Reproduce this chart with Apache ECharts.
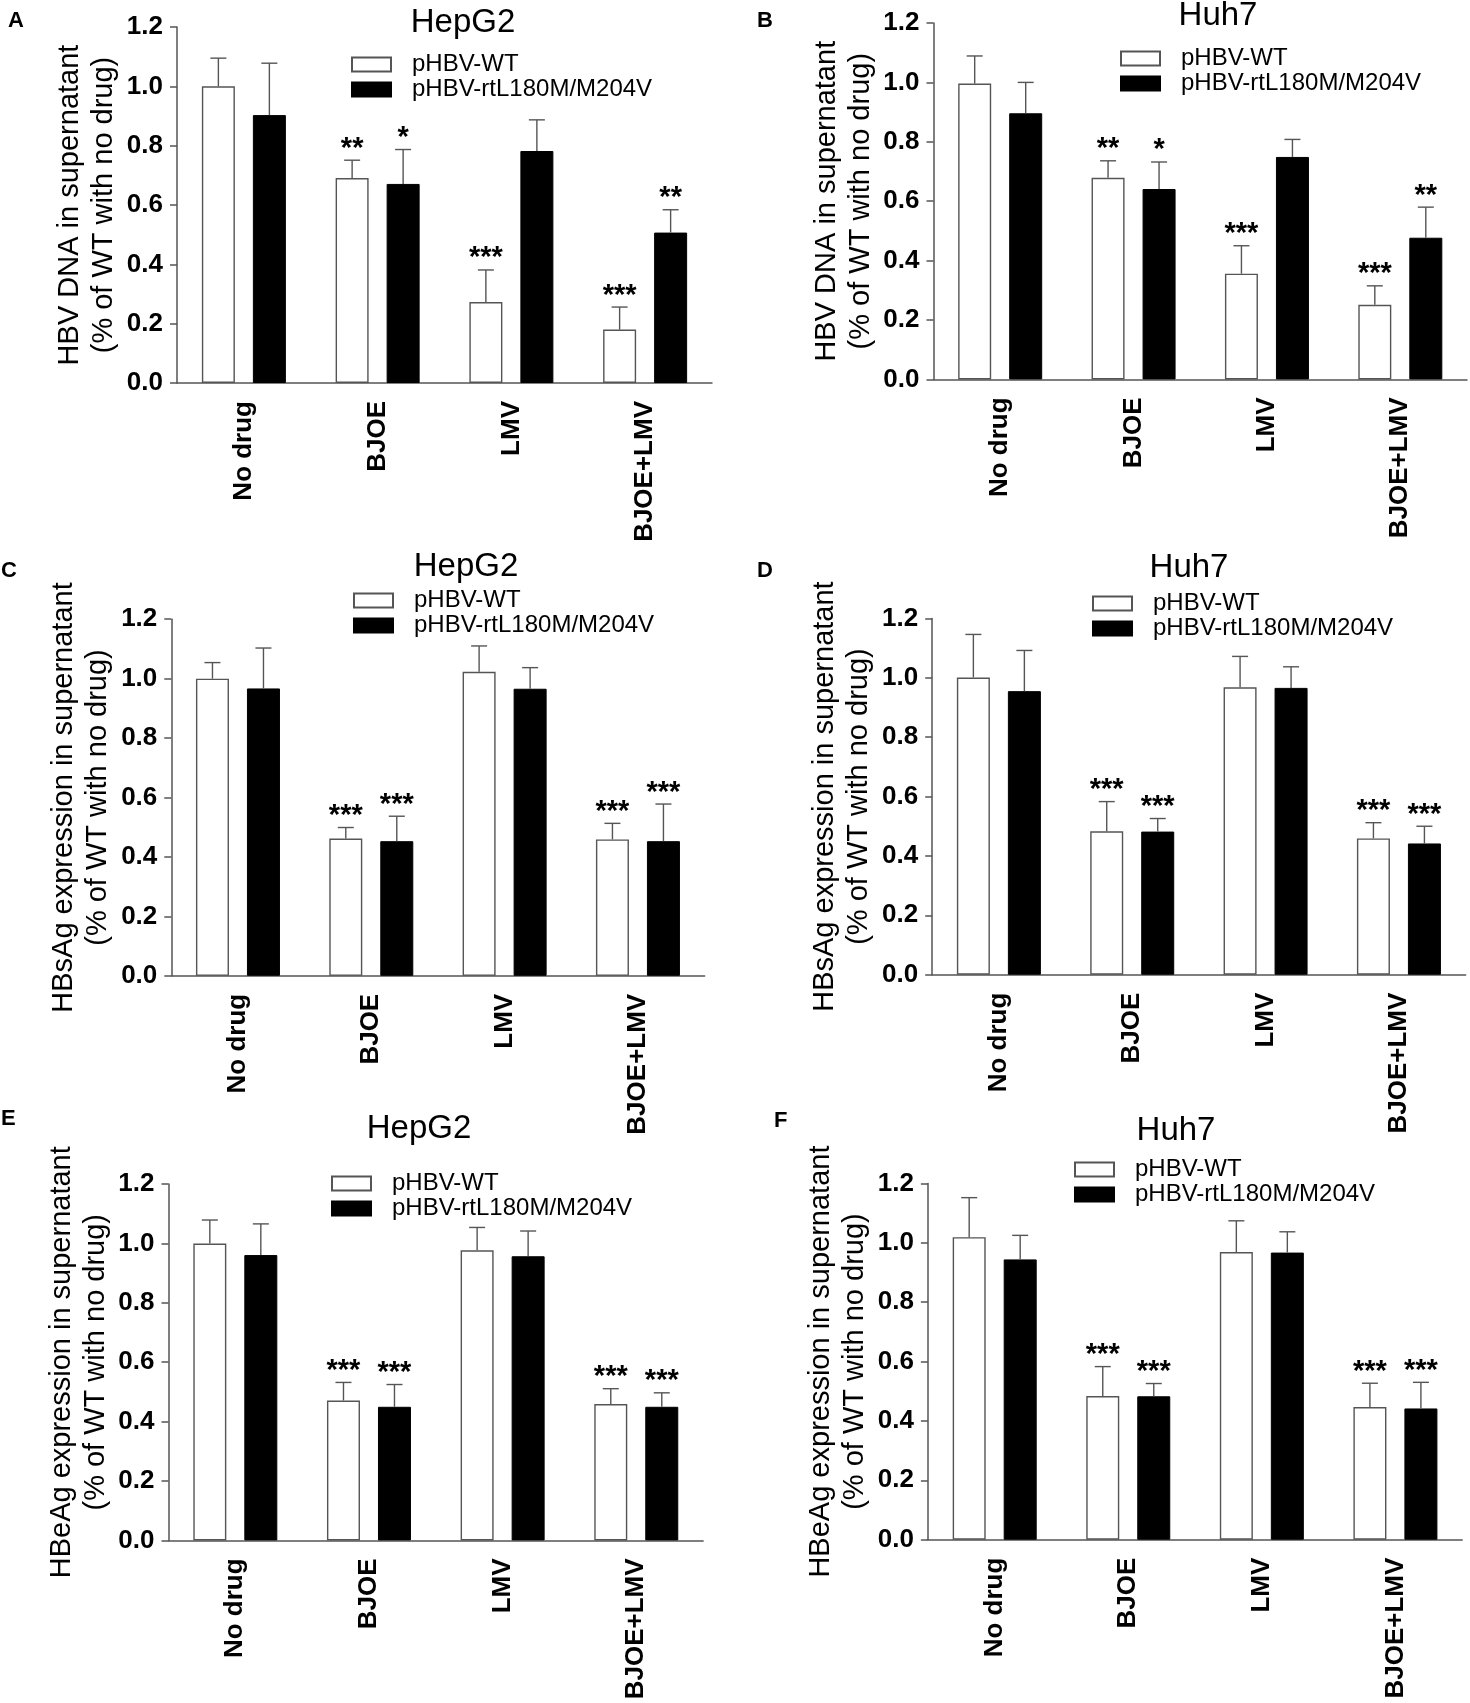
<!DOCTYPE html>
<html>
<head>
<meta charset="utf-8">
<script src="https://cdn.jsdelivr.net/npm/echarts@6/dist/echarts.min.js"></script>
<style>
  html, body { margin: 0; padding: 0; background: #fff; }
  #chart { width: 1470px; height: 1703px; }
</style>
</head>
<body>
<div id="chart"></div>
<script>
// ---- data ----
const categories = ['No drug', 'BJOE', 'LMV', 'BJOE+LMV'];
const seriesNames = ['pHBV-WT', 'pHBV-rtL180M/M204V'];
const yMin = 0, yMax = 1.2, yStep = 0.2;

// A: HBV DNA, HepG2
const dnaHepG2Wt = [1.000, 0.691, 0.273, 0.180];
const dnaHepG2WtSd = [0.095, 0.060, 0.108, 0.076];
const dnaHepG2Mut = [0.903, 0.671, 0.782, 0.507];
const dnaHepG2MutSd = [0.175, 0.116, 0.105, 0.077];
const dnaHepG2WtSig = ['', '**', '***', '***'];
const dnaHepG2MutSig = ['', '*', '', '**'];

// B: HBV DNA, Huh7
const dnaHuh7Wt = [0.996, 0.679, 0.356, 0.251];
const dnaHuh7WtSd = [0.093, 0.057, 0.094, 0.064];
const dnaHuh7Mut = [0.896, 0.641, 0.749, 0.477];
const dnaHuh7MutSd = [0.104, 0.091, 0.059, 0.103];
const dnaHuh7WtSig = ['', '**', '***', '***'];
const dnaHuh7MutSig = ['', '*', '', '**'];

// C: HBsAg, HepG2
const sAgHepG2Wt = [1.000, 0.462, 1.023, 0.459];
const sAgHepG2WtSd = [0.054, 0.037, 0.087, 0.054];
const sAgHepG2Mut = [0.967, 0.453, 0.966, 0.453];
const sAgHepG2MutSd = [0.136, 0.084, 0.071, 0.125];
const sAgHepG2WtSig = ['', '***', '', '***'];
const sAgHepG2MutSig = ['', '***', '', '***'];

// D: HBsAg, Huh7
const sAgHuh7Wt = [1.001, 0.483, 0.968, 0.459];
const sAgHuh7WtSd = [0.145, 0.100, 0.104, 0.053];
const sAgHuh7Mut = [0.955, 0.482, 0.966, 0.442];
const sAgHuh7MutSd = [0.137, 0.044, 0.071, 0.058];
const sAgHuh7WtSig = ['', '***', '', '***'];
const sAgHuh7MutSig = ['', '***', '', '***'];

// E: HBeAg, HepG2
const eAgHepG2Wt = [1.000, 0.471, 0.977, 0.459];
const eAgHepG2WtSd = [0.079, 0.061, 0.077, 0.052];
const eAgHepG2Mut = [0.961, 0.450, 0.957, 0.450];
const eAgHepG2MutSd = [0.105, 0.075, 0.085, 0.047];
const eAgHepG2WtSig = ['', '***', '', '***'];
const eAgHepG2MutSig = ['', '***', '', '***'];

// F: HBeAg, Huh7
const eAgHuh7Wt = [1.019, 0.484, 0.969, 0.447];
const eAgHuh7WtSd = [0.133, 0.099, 0.105, 0.080];
const eAgHuh7Mut = [0.944, 0.483, 0.967, 0.442];
const eAgHuh7MutSd = [0.081, 0.043, 0.070, 0.088];
const eAgHuh7WtSig = ['', '***', '', '***'];
const eAgHuh7MutSig = ['', '***', '', '***'];

const dnaName = 'HBV DNA in supernatant\n(% of WT with no drug)';
const sAgName = 'HBsAg expression in supernatant\n(% of WT with no drug)';
const eAgName = 'HBeAg expression in supernatant\n(% of WT with no drug)';

const panels = [
  { letter: 'A', title: 'HepG2', yName: dnaName, wt: dnaHepG2Wt, wtSd: dnaHepG2WtSd, mut: dnaHepG2Mut, mutSd: dnaHepG2MutSd, wtSig: dnaHepG2WtSig, mutSig: dnaHepG2MutSig },
  { letter: 'B', title: 'Huh7', yName: dnaName, wt: dnaHuh7Wt, wtSd: dnaHuh7WtSd, mut: dnaHuh7Mut, mutSd: dnaHuh7MutSd, wtSig: dnaHuh7WtSig, mutSig: dnaHuh7MutSig },
  { letter: 'C', title: 'HepG2', yName: sAgName, wt: sAgHepG2Wt, wtSd: sAgHepG2WtSd, mut: sAgHepG2Mut, mutSd: sAgHepG2MutSd, wtSig: sAgHepG2WtSig, mutSig: sAgHepG2MutSig },
  { letter: 'D', title: 'Huh7', yName: sAgName, wt: sAgHuh7Wt, wtSd: sAgHuh7WtSd, mut: sAgHuh7Mut, mutSd: sAgHuh7MutSd, wtSig: sAgHuh7WtSig, mutSig: sAgHuh7MutSig },
  { letter: 'E', title: 'HepG2', yName: eAgName, wt: eAgHepG2Wt, wtSd: eAgHepG2WtSd, mut: eAgHepG2Mut, mutSd: eAgHepG2MutSd, wtSig: eAgHepG2WtSig, mutSig: eAgHepG2MutSig },
  { letter: 'F', title: 'Huh7', yName: eAgName, wt: eAgHuh7Wt, wtSd: eAgHuh7WtSd, mut: eAgHuh7Mut, mutSd: eAgHuh7MutSd, wtSig: eAgHuh7WtSig, mutSig: eAgHuh7MutSig }
];

// ---- layout (pixels) ----
const layout = [
  { left: 177,   top: 27,     width: 535,   height: 356,   titleX: 463,  titleY: 6,    legendX: 351,  legendY: 52,   letterX: 8,   letterY: 10 },
  { left: 933.5, top: 23,     width: 533.5, height: 356.4, titleX: 1218, titleY: -1,   legendX: 1120, legendY: 46,   letterX: 757, letterY: 10 },
  { left: 171.3, top: 619.2,  width: 533.3, height: 356.6, titleX: 466,  titleY: 550,  legendX: 353,  legendY: 588,  letterX: 1,   letterY: 560 },
  { left: 932.2, top: 618.4,  width: 533.4, height: 356.3, titleX: 1189, titleY: 551,  legendX: 1092, legendY: 591,  letterX: 757, letterY: 560 },
  { left: 168.5, top: 1184.1, width: 534.6, height: 356.3, titleX: 419,  titleY: 1112, legendX: 331,  legendY: 1171, letterX: 1,   letterY: 1108 },
  { left: 927.9, top: 1183.4, width: 534.3, height: 356.3, titleX: 1176, titleY: 1114, legendX: 1074, legendY: 1157, letterX: 774, letterY: 1110 }
];

const FONT = '"Liberation Sans", Arial, Helvetica, sans-serif';
const AX = '#555';
const ERR = '#555';
const BAR_W = 33;
const BAR_GAP = 18;
const CAP = 16;

function errorRenderer(means, sds, sigs, side) {
  return function (params, api) {
    const i = params.dataIndex;
    const base = api.coord([i, means[i]]);
    const top = api.coord([i, means[i] + sds[i]]);
    const x = base[0] + side * (BAR_W + BAR_GAP) / 2;
    const children = [
      { type: 'line', shape: { x1: x, y1: base[1], x2: x, y2: top[1] }, style: { stroke: ERR, lineWidth: 1.4 } },
      { type: 'line', shape: { x1: x - CAP / 2, y1: top[1], x2: x + CAP / 2, y2: top[1] }, style: { stroke: ERR, lineWidth: 1.4 } }
    ];
    if (sigs[i]) {
      children.push({
        type: 'text', x: x, y: top[1] + 3,
        style: { text: sigs[i], align: 'center', verticalAlign: 'bottom', textAlign: 'center', textVerticalAlign: 'bottom', fontSize: 29, fontWeight: 'bold', fontFamily: FONT, fill: '#000' }
      });
    }
    return { type: 'group', children: children };
  };
}

const grid = [], xAxis = [], yAxis = [], series = [], legend = [], graphic = [], title = [];

panels.forEach(function (p, k) {
  const L = layout[k];
  grid.push({ left: L.left, top: L.top, width: L.width, height: L.height, containLabel: false, outerBoundsMode: 'none' });

  xAxis.push({
    gridIndex: k, type: 'category', data: categories,
    axisLine: { lineStyle: { color: AX, width: 1.5 } },
    axisTick: { alignWithLabel: true, length: 10, lineStyle: { color: AX, width: 1.5 } },
    axisLabel: { interval: 0, rotate: 90, margin: 18, fontSize: 26, fontWeight: 'bold', color: '#000', fontFamily: FONT }
  });

  yAxis.push({
    gridIndex: k, type: 'value', min: yMin, max: yMax, interval: yStep,
    name: p.yName, nameLocation: 'middle', nameGap: 56,
    nameTextStyle: { fontSize: 29, lineHeight: 34, color: '#000', fontFamily: FONT },
    axisLine: { show: true, lineStyle: { color: AX, width: 1.5 } },
    axisTick: { show: true, length: 7, lineStyle: { color: AX, width: 1.5 } },
    splitLine: { show: false },
    axisLabel: { formatter: function (v) { return v.toFixed(1); }, margin: 14, fontSize: 26, fontWeight: 'bold', color: '#000', fontFamily: FONT }
  });

  series.push({
    name: seriesNames[0], type: 'bar', xAxisIndex: k, yAxisIndex: k, data: p.wt,
    barWidth: BAR_W, barGap: (BAR_GAP / BAR_W * 100) + '%',
    itemStyle: { color: '#fff', borderColor: AX, borderWidth: 1.4 }
  });
  series.push({
    name: seriesNames[1], type: 'bar', xAxisIndex: k, yAxisIndex: k, data: p.mut,
    barWidth: BAR_W, barGap: (BAR_GAP / BAR_W * 100) + '%',
    itemStyle: { color: '#000', borderColor: '#000', borderWidth: 1 }
  });
  series.push({
    type: 'custom', xAxisIndex: k, yAxisIndex: k, z: 5,
    data: p.wt.map(function (m, i) { return [i, m + p.wtSd[i]]; }),
    renderItem: errorRenderer(p.wt, p.wtSd, p.wtSig, -1)
  });
  series.push({
    type: 'custom', xAxisIndex: k, yAxisIndex: k, z: 5,
    data: p.mut.map(function (m, i) { return [i, m + p.mutSd[i]]; }),
    renderItem: errorRenderer(p.mut, p.mutSd, p.mutSig, 1)
  });

  legend.push({
    orient: 'vertical', left: L.legendX, top: L.legendY, padding: 0,
    itemWidth: 39, itemHeight: 14, itemGap: 0, icon: 'rect', selectedMode: false,
    data: seriesNames,
    textStyle: { fontSize: 24, lineHeight: 25, color: '#000', fontFamily: FONT, padding: [0, 0, 0, 16] }
  });

  graphic.push({
    type: 'text', x: L.titleX, y: L.titleY,
    style: { text: p.title, fontSize: 33, fontFamily: FONT, fill: '#000', align: 'center', textAlign: 'center', verticalAlign: 'top', textVerticalAlign: 'top' }
  });

  // panel letter
  title.push({
    text: p.letter, left: L.letterX, top: L.letterY, padding: 0,
    textStyle: { fontSize: 22, fontWeight: 'bold', color: '#000', fontFamily: FONT }
  });
});

const chart = echarts.init(document.getElementById('chart'));
chart.setOption({
  backgroundColor: '#fff',
  animation: false,
  tooltip: { show: false },
  title: title,
  grid: grid,
  xAxis: xAxis,
  yAxis: yAxis,
  legend: legend,
  graphic: graphic,
  series: series
});
</script>
</body>
</html>
